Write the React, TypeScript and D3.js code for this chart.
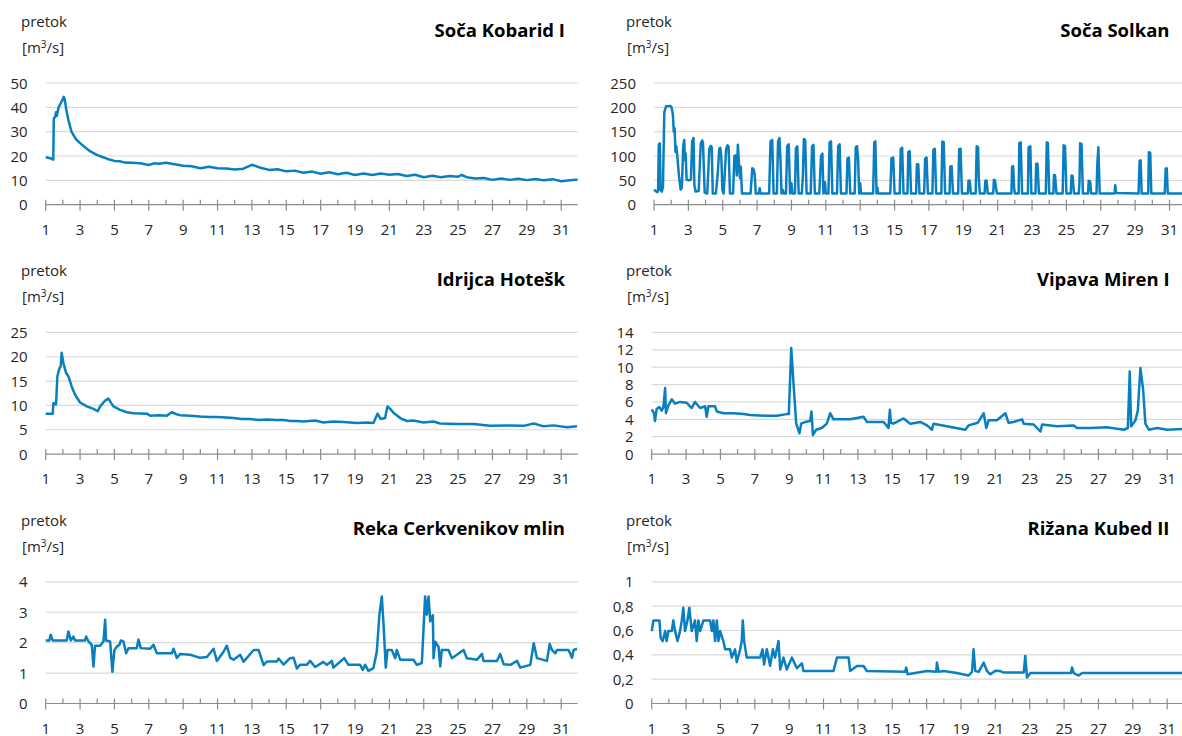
import React from "react";
import * as d3 from "d3";

type Pt = [number, number];

const titles = ["Soča Kobarid I", "Soča Solkan", "Idrijca Hotešk", "Vipava Miren I", "Reka Cerkvenikov mlin", "Rižana Kubed II"];
const yMaxes = [50, 250, 25, 14, 4, 1];
const ySteps = [10, 50, 5, 2, 1, 0.2];
const dayTicks = d3.range(1, 32);
const xDomain: [number, number] = [1, 31.96];

const kobarid: Pt[] = [
  [1, 19.5], [1.2, 19.2], [1.3, 19.0], [1.44, 18.5], [1.47, 35.5], [1.55, 36], [1.6, 38], [1.65, 36.5], [1.75, 40], [1.9, 42], [2.05, 44.3], [2.1, 43.5], [2.2, 39],
  [2.32, 34.8], [2.5, 30], [2.75, 27], [3.0, 25.3], [3.3, 23.5], [3.6, 21.9], [4.0, 20.4], [4.3, 19.6], [4.6, 18.8], [5.0, 18], [5.3, 17.9], [5.6, 17.3], [6, 17.2],
  [6.5, 17.0], [7, 16.3], [7.3, 17.0], [7.6, 16.8], [8, 17.2], [8.5, 16.6], [9, 16.0], [9.5, 15.8], [10, 15.0], [10.5, 15.6], [11, 15.0], [11.5, 14.9], [12, 14.5],
  [12.5, 14.8], [13, 16.4], [13.5, 15.2], [14, 14.3], [14.5, 14.6], [15, 13.7], [15.5, 14.0], [16, 13.1], [16.5, 13.6], [17, 12.7], [17.5, 13.3], [18, 12.5],
  [18.5, 13.1], [19, 12.2], [19.5, 12.8], [20, 12.2], [20.5, 12.8], [21, 12.3], [21.5, 12.6], [22, 11.8], [22.5, 12.3], [23, 11.3], [23.5, 11.9], [24, 11.3],
  [24.5, 11.8], [25, 11.5], [25.2, 12.2], [25.5, 11.3], [26, 10.8], [26.5, 11.0], [27, 10.2], [27.5, 10.8], [28, 10.2], [28.5, 10.7], [29, 10.1], [29.5, 10.6],
  [30, 10.0], [30.5, 10.5], [31, 9.6], [31.5, 10.0], [31.96, 10.3],
];

const solkan: Pt[] = [
  [1, 31], [1.1, 28], [1.2, 26], [1.24, 30], [1.28, 124], [1.34, 126], [1.38, 30], [1.45, 27], [1.52, 35], [1.6, 190], [1.7, 202], [1.95, 203], [2.02, 200],
  [2.1, 185], [2.15, 150], [2.2, 157], [2.25, 109], [2.3, 120], [2.36, 99], [2.45, 60], [2.55, 31], [2.62, 35], [2.7, 120], [2.76, 133], [2.8, 92], [2.84, 105],
  [2.9, 51], [3.05, 50], [3.15, 52], [3.22, 130], [3.3, 137], [3.35, 40], [3.42, 27], [3.6, 28], [3.72, 125], [3.8, 132], [3.85, 128], [3.95, 25], [4.1, 23],
  [4.22, 115], [4.3, 121], [4.36, 118], [4.42, 23], [4.6, 23], [4.7, 60], [4.8, 115], [4.86, 117], [4.92, 96], [4.98, 30], [5.05, 23], [5.2, 115], [5.28, 122],
  [5.34, 120], [5.42, 23], [5.6, 23], [5.68, 100], [5.76, 101], [5.82, 60], [5.88, 123], [5.94, 88], [6.0, 55], [6.05, 78], [6.12, 23], [6.62, 23], [6.72, 75],
  [6.8, 72], [6.86, 62], [6.92, 23], [7.1, 23], [7.15, 34], [7.2, 23], [7.7, 23], [7.78, 130], [7.88, 133], [7.96, 23], [8.15, 23], [8.22, 130], [8.3, 137],
  [8.36, 92], [8.42, 23], [8.5, 30], [8.55, 23], [8.68, 23], [8.75, 120], [8.84, 124], [8.92, 23], [9.0, 44], [9.05, 23], [9.2, 23], [9.26, 116], [9.34, 120],
  [9.42, 23], [9.6, 23], [9.66, 55], [9.72, 135], [9.8, 133], [9.88, 23], [10.12, 23], [10.2, 120], [10.28, 123], [10.36, 23], [10.62, 23], [10.72, 100],
  [10.8, 105], [10.86, 23], [10.95, 46], [11.0, 23], [11.15, 23], [11.22, 128], [11.3, 130], [11.38, 23], [11.65, 23], [11.72, 120], [11.8, 124], [11.88, 23],
  [12.2, 23], [12.26, 95], [12.34, 97], [12.42, 23], [12.68, 23], [12.74, 118], [12.82, 120], [12.88, 92], [12.94, 23], [13.0, 44], [13.05, 23], [13.75, 23],
  [13.82, 128], [13.88, 130], [13.95, 23], [14.0, 35], [14.05, 23], [14.75, 23], [14.82, 95], [14.92, 97], [15.0, 23], [15.3, 23], [15.36, 115], [15.44, 117],
  [15.52, 23], [15.75, 23], [15.8, 108], [15.88, 110], [15.96, 23], [16.25, 23], [16.3, 83], [16.38, 83], [16.45, 23], [16.72, 23], [16.78, 95], [16.86, 97],
  [16.94, 23], [17.2, 23], [17.26, 113], [17.34, 115], [17.42, 23], [17.72, 23], [17.78, 130], [17.86, 128], [17.94, 23], [18.2, 23], [18.24, 78], [18.32, 79],
  [18.4, 23], [18.7, 23], [18.76, 114], [18.84, 115], [18.92, 23], [19.26, 23], [19.3, 49], [19.38, 49], [19.44, 23], [19.72, 23], [19.78, 120], [19.86, 118],
  [19.9, 54], [19.96, 23], [20.24, 23], [20.28, 49], [20.36, 49], [20.42, 23], [20.74, 23], [20.78, 51], [20.84, 50], [20.9, 35], [20.96, 23], [21.8, 23],
  [21.84, 78], [21.9, 79], [21.96, 34], [22.0, 23], [22.22, 23], [22.26, 126], [22.34, 128], [22.42, 23], [22.76, 23], [22.8, 118], [22.9, 120], [22.96, 23],
  [23.2, 23], [23.24, 84], [23.32, 84], [23.4, 23], [23.8, 23], [23.86, 128], [23.92, 127], [24.0, 23], [24.24, 23], [24.28, 61], [24.34, 60], [24.42, 23],
  [24.78, 23], [24.84, 122], [24.92, 120], [25.0, 23], [25.25, 23], [25.3, 60], [25.36, 59], [25.44, 23], [25.72, 23], [25.76, 44], [25.8, 126], [25.88, 125],
  [25.96, 23], [26.26, 23], [26.3, 49], [26.38, 48], [26.44, 23], [26.75, 23], [26.8, 84], [26.86, 118], [26.94, 23], [27.8, 23], [27.84, 40], [27.9, 24],
  [29.2, 23], [29.26, 90], [29.32, 91], [29.38, 23], [29.76, 23], [29.8, 108], [29.88, 106], [29.94, 23], [30.72, 23], [30.78, 74], [30.84, 75], [30.9, 23],
  [31.96, 23],
];

const idrijca: Pt[] = [
  [1, 8.3], [1.41, 8.3], [1.45, 10.5], [1.6, 10.2], [1.68, 16], [1.8, 17.7], [1.87, 18], [1.93, 20.8], [2.03, 18.7], [2.18, 16.7], [2.32, 16], [2.51, 13.9],
  [2.71, 12.2], [3.0, 10.6], [3.39, 9.8], [3.78, 9.3], [4.03, 8.8], [4.17, 9.8], [4.46, 11.0], [4.65, 11.4], [4.94, 9.8], [5.33, 9.1], [5.72, 8.6], [6.11, 8.4],
  [6.88, 8.3], [7.08, 7.9], [7.6, 8.0], [8.05, 7.9], [8.34, 8.6], [8.6, 8.2], [8.83, 8.0], [9.4, 7.9], [9.99, 7.7], [10.5, 7.6], [10.96, 7.6], [11.5, 7.5],
  [11.93, 7.4], [12.4, 7.2], [12.9, 7.2], [13.4, 7.0], [13.87, 7.1], [14.4, 7.0], [14.84, 7.0], [15.23, 6.8], [15.6, 6.8], [16, 6.7], [16.68, 6.9], [17.16, 6.5],
  [17.74, 6.7], [18.33, 6.6], [19.1, 6.4], [19.69, 6.5], [20.07, 6.4], [20.31, 8.3], [20.5, 7.2], [20.75, 7.4], [20.89, 9.8], [21.05, 9.3], [21.24, 8.5],
  [21.63, 7.4], [22.02, 6.8], [22.4, 6.9], [22.99, 6.5], [23.57, 6.7], [23.96, 6.3], [24.93, 6.2], [25.9, 6.2], [26.87, 5.8], [27.84, 5.9], [28.81, 5.8],
  [29.4, 6.3], [29.98, 5.7], [30.56, 5.9], [31.34, 5.5], [31.92, 5.7],
];

const vipava: Pt[] = [
  [1.0, 5.15], [1.14, 4.7], [1.19, 3.8], [1.29, 5.2], [1.45, 5.4], [1.58, 5.0], [1.68, 5.4], [1.78, 7.6], [1.83, 4.7], [1.97, 5.6], [2.17, 6.3], [2.36, 5.8],
  [2.65, 6.0], [3.04, 5.9], [3.33, 5.3], [3.52, 6.0], [3.82, 5.3], [4.11, 5.5], [4.2, 4.3], [4.3, 5.5], [4.69, 5.5], [4.79, 4.9], [5.17, 4.7], [5.76, 4.7],
  [6.34, 4.6], [6.73, 4.5], [7.7, 4.4], [8.28, 4.4], [8.86, 4.6], [8.98, 4.6], [9.12, 12.2], [9.25, 8.2], [9.41, 3.5], [9.6, 2.4], [9.7, 3.5], [9.93, 3.7],
  [10.22, 3.8], [10.3, 4.9], [10.38, 2.2], [10.57, 2.8], [10.9, 3.0], [11.19, 3.5], [11.39, 4.7], [11.58, 4.0], [12.55, 4.0], [13.33, 4.3], [13.52, 3.7],
  [14.5, 3.7], [14.78, 3.0], [14.86, 5.1], [14.92, 3.6], [15.07, 3.5], [15.66, 4.1], [16.05, 3.5], [16.63, 3.7], [17.02, 3.3], [17.31, 2.8], [17.4, 3.5],
  [19.25, 2.8], [19.44, 3.3], [19.97, 3.6], [20.32, 4.7], [20.47, 3.0], [20.61, 3.9], [21.09, 3.9], [21.58, 4.7], [21.77, 3.6], [22.06, 3.7], [22.55, 4.0],
  [22.65, 3.5], [23.23, 3.4], [23.62, 2.6], [23.72, 3.4], [24.59, 3.2], [25.56, 3.3], [25.75, 3.0], [26.53, 3.0], [27.5, 3.1], [28.47, 2.8], [28.71, 3.0],
  [28.82, 9.5], [28.9, 3.2], [29.15, 3.9], [29.29, 5.0], [29.44, 9.9], [29.6, 7.4], [29.73, 3.5], [29.93, 2.8], [30.41, 3.0], [31.0, 2.8], [31.9, 2.9],
];

const reka: Pt[] = [
  [1, 2.07], [1.21, 2.07], [1.29, 2.26], [1.41, 2.07], [2.22, 2.07], [2.32, 2.37], [2.46, 2.07], [2.61, 2.2], [2.71, 2.07], [3.29, 2.07], [3.35, 2.2],
  [3.49, 2.04], [3.68, 1.93], [3.78, 1.21], [3.87, 1.9], [4.17, 1.9], [4.36, 2.04], [4.46, 2.75], [4.51, 2.07], [4.75, 2.04], [4.88, 1.04], [5.0, 1.76],
  [5.14, 1.87], [5.29, 1.93], [5.37, 2.07], [5.52, 2.04], [5.68, 1.65], [5.82, 1.82], [6.3, 1.82], [6.4, 2.1], [6.53, 1.82], [7.08, 1.8], [7.27, 1.93],
  [7.47, 1.65], [8.34, 1.65], [8.44, 1.8], [8.63, 1.5], [8.83, 1.63], [9.41, 1.6], [9.99, 1.5], [10.38, 1.53], [10.77, 1.8], [10.96, 1.4], [11.35, 1.7],
  [11.54, 1.9], [11.74, 1.5], [11.93, 1.44], [12.32, 1.6], [12.51, 1.37], [13.1, 1.76], [13.39, 1.76], [13.68, 1.26], [13.87, 1.38], [14.46, 1.38], [14.55, 1.48],
  [14.84, 1.28], [15.22, 1.49], [15.43, 1.5], [15.62, 1.15], [15.8, 1.27], [16.19, 1.27], [16.39, 1.4], [16.68, 1.2], [17.16, 1.37], [17.36, 1.27], [17.65, 1.4],
  [17.74, 1.18], [18.13, 1.37], [18.37, 1.49], [18.62, 1.27], [19.3, 1.27], [19.45, 1.1], [19.59, 1.27], [19.78, 1.07], [20.07, 1.16], [20.27, 1.71],
  [20.42, 2.92], [20.56, 3.52], [20.66, 2.6], [20.79, 1.18], [20.89, 1.76], [21.14, 1.76], [21.34, 1.49], [21.43, 1.76], [21.63, 1.44], [22.4, 1.44],
  [22.6, 1.27], [22.89, 1.33], [22.99, 2.48], [23.08, 3.52], [23.18, 2.92], [23.28, 3.52], [23.38, 2.7], [23.53, 2.9], [23.57, 1.49], [23.67, 2.03],
  [23.86, 1.87], [23.96, 1.22], [24.05, 1.76], [24.44, 1.76], [24.64, 1.49], [24.93, 1.6], [25.32, 1.76], [25.51, 1.49], [26.1, 1.44], [26.39, 1.63],
  [26.48, 1.4], [27.26, 1.4], [27.45, 1.63], [27.65, 1.29], [28.04, 1.27], [28.43, 1.4], [28.62, 1.18], [29.2, 1.27], [29.4, 1.98], [29.59, 1.49],
  [30.17, 1.4], [30.33, 1.96], [30.46, 1.76], [30.66, 1.65], [30.75, 1.76], [31.43, 1.76], [31.53, 1.63], [31.63, 1.5], [31.72, 1.76], [31.92, 1.8],
];

const rizana: Pt[] = [
  [1, 0.595], [1.1, 0.683], [1.45, 0.683], [1.52, 0.54], [1.64, 0.513], [1.78, 0.595], [1.87, 0.513], [1.97, 0.595], [2.17, 0.595], [2.26, 0.683],
  [2.36, 0.595], [2.5, 0.513], [2.65, 0.595], [2.75, 0.683], [2.84, 0.787], [2.94, 0.595], [3.08, 0.683], [3.19, 0.787], [3.33, 0.595], [3.52, 0.683],
  [3.62, 0.513], [3.72, 0.683], [3.82, 0.595], [4.01, 0.683], [4.4, 0.683], [4.5, 0.595], [4.59, 0.683], [4.69, 0.513], [4.79, 0.683], [4.88, 0.513],
  [4.98, 0.595], [5.17, 0.513], [5.27, 0.445], [5.56, 0.445], [5.66, 0.377], [5.85, 0.445], [5.95, 0.34], [6.15, 0.445], [6.24, 0.513], [6.3, 0.683],
  [6.38, 0.513], [6.53, 0.377], [7.31, 0.377], [7.45, 0.445], [7.54, 0.32], [7.7, 0.445], [7.89, 0.31], [8.05, 0.445], [8.18, 0.377], [8.38, 0.513],
  [8.48, 0.28], [8.67, 0.377], [8.86, 0.28], [9.16, 0.377], [9.45, 0.29], [9.74, 0.33], [9.83, 0.267], [11.58, 0.267], [11.78, 0.377], [12.46, 0.377],
  [12.55, 0.267], [12.94, 0.308], [13.33, 0.308], [13.52, 0.267], [15.75, 0.26], [15.81, 0.295], [15.89, 0.24], [17.02, 0.267], [17.56, 0.26], [17.6, 0.336],
  [17.7, 0.26], [17.99, 0.267], [18.76, 0.25], [19.44, 0.23], [19.64, 0.26], [19.73, 0.445], [19.83, 0.267], [20.03, 0.26], [20.32, 0.336], [20.51, 0.267],
  [20.71, 0.24], [21.0, 0.27], [21.29, 0.267], [21.48, 0.254], [22.65, 0.254], [22.74, 0.39], [22.84, 0.213], [23.04, 0.25], [25.4, 0.25], [25.46, 0.295],
  [25.56, 0.25], [25.85, 0.23], [26.05, 0.25], [31.96, 0.25],
];

const series: Pt[][] = [kobarid, solkan, idrijca, vipava, reka, rizana];

const plotLefts = [45.7, 654, 45.7, 651.7, 45.7, 651.7];
const PLOT_W = 532;
const PLOT_H = 121.7;
const ROW_GAP = 249.4;
const FONT = "'Segoe UI', 'Open Sans', 'Noto Sans', sans-serif";
const LINE_COLOR = "#0A7FC0";

function fmtTick(v: number, idx: number) {
  if (idx === 5) return String(+v.toFixed(1)).replace(".", ",");
  return String(+v.toFixed(1));
}

function Panel({ idx }: { idx: number }) {
  const col = idx % 2;
  const row = Math.floor(idx / 2);
  const left = plotLefts[idx];
  const axisY = 204.7 + row * ROW_GAP;
  const top = axisY - PLOT_H;
  const x = d3.scaleLinear().domain(xDomain).range([left, left + PLOT_W]);
  const y = d3.scaleLinear().domain([0, yMaxes[idx]]).range([axisY, top]);
  const yTicks = d3.range(0, yMaxes[idx] + ySteps[idx] / 2, ySteps[idx]);
  const line = d3.line<Pt>().x((d) => x(d[0])).y((d) => y(d[1]));
  const titleRight = col === 0 ? 565 : 1169.5;
  const labelX = col === 0 ? 21 : 626;
  const baseY = row * ROW_GAP;
  return (
    <g>
      <text x={labelX} y={27 + baseY} fontSize={15} fill="#262626">pretok</text>
      <text x={labelX + 1} y={53 + baseY} fontSize={15} fill="#262626">
        [m<tspan dy={-5} fontSize={10}>3</tspan><tspan dy={5}>/s]</tspan>
      </text>
      <text x={titleRight} y={36.5 + baseY} fontSize={18.5} fontWeight="bold" textAnchor="end" fill="#000">
        {titles[idx]}
      </text>
      {yTicks.filter((t) => t > 0).map((t) => (
        <line key={"g" + t} x1={left} x2={left + PLOT_W} y1={y(t)} y2={y(t)} stroke="#d9d9d9" strokeWidth={1.2} />
      ))}
      {yTicks.map((t) => (
        <text key={"yl" + t} x={left - 18} y={y(t) + 5.5} fontSize={15} textAnchor="end" fill="#262626">
          {fmtTick(t, idx)}
        </text>
      ))}
      <line x1={left} x2={left + PLOT_W} y1={axisY} y2={axisY} stroke="#8c8c8c" strokeWidth={1.2} />
      {dayTicks.map((d) => {
        const major = d % 2 === 1;
        return (
          <line key={"t" + d} x1={x(d)} x2={x(d)} y1={axisY - 5} y2={major ? axisY + 6 : axisY} stroke="#8c8c8c" strokeWidth={1.2} />
        );
      })}
      {dayTicks.filter((d) => d % 2 === 1).map((d) => (
        <text key={"xl" + d} x={x(d)} y={axisY + 30} fontSize={15} textAnchor="middle" fill="#262626">
          {d}
        </text>
      ))}
      <path d={line(series[idx]) || ""} fill="none" stroke={LINE_COLOR} strokeWidth={2.5} strokeLinejoin="round" />
    </g>
  );
}

export default function App() {
  return (
    <svg width={1182} height={736} style={{ position: "absolute", left: 0, top: 0, background: "#fff" }} fontFamily={FONT}>
      {titles.map((_, i) => (
        <Panel key={i} idx={i} />
      ))}
    </svg>
  );
}
